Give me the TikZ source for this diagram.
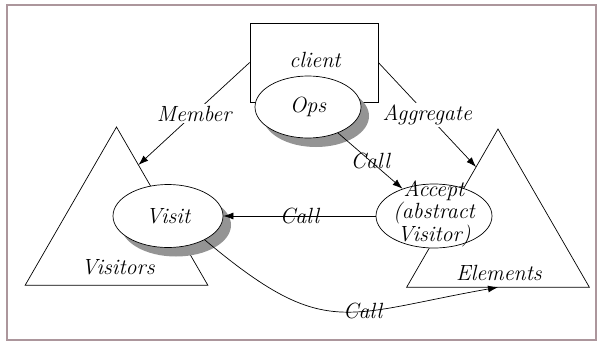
\documentclass[tikz,border=0pt]{standalone}
\usepackage{tikz}
\usetikzlibrary{arrows.meta,shapes.geometric,shadows,calc}
\definecolor{framecol}{RGB}{172,150,156}
\tikzstyle{part} = [regular polygon, regular polygon sides=3, draw, fill=white, minimum size=211pt, inner sep=0pt, outer sep=0pt]
\tikzstyle{op} = [ellipse, draw, fill=white, inner sep=0pt, align=center]
\tikzstyle{shade} = [drop shadow={shadow xshift=8pt, shadow yshift=-9pt, fill=black!42, opacity=1}]
\tikzstyle{link} = [-{Latex[length=10pt,width=7pt]}, line width=0.7pt]
\tikzstyle{tag} = [fill=white, inner sep=2pt]

\begin{document}
\begin{tikzpicture}[x=1pt, y=-1pt, line width=0.7pt, font=\fontsize{22}{22}\selectfont\itshape]
\useasboundingbox (0,0) rectangle (602,343);
\draw[framecol, line width=1.3pt] (7,5) rectangle (596,340);

% the two groups
\node[part] (vtri) at (116.5,232.5) {};
\node[part] (etri) at (498,234.5) {};
\node (vlbl) at (118,267) {Visitors};
\node (elbl) at (499,273) {Elements};

% client with its operation
\node[draw, minimum width=128pt, minimum height=79pt] (client) at (314,62.5) {};
\node (clbl) at (315,60) {client};
\node[op, shade, minimum width=106pt, minimum height=62pt] (ops) at (308,107) {Ops};

\node[op, shade, minimum width=110pt, minimum height=63pt] (visit) at (168,216) {Visit};
\node[op, minimum width=116pt, minimum height=64pt] (accept) at (434,216) {};
\node[align=center, inner sep=0pt] (acclbl) at (434,214) {Accept\\(abstract\\Visitor)};

\coordinate (mend) at ($(vtri.corner 1)!0.24!(vtri.corner 3)$);
\coordinate (aend) at ($(etri.corner 1)!0.24!(etri.corner 2)$);
\coordinate (cend) at ($(etri.corner 2)!0.5!(etri.corner 3)$);

\draw[link] (client.west) -- node[tag] (mlbl) {Member} (mend);
\draw[link] (client.east) -- node[tag] (albl) {Aggregate} (aend);
\draw[link] (ops) -- node (c1lbl) {Call} (accept);
\draw[link] (accept) -- node (c2lbl) {Call} (visit);
\draw[link] (visit.-33) to[out=-40, in=190, looseness=1.35] node[pos=0.6] (c3lbl) {Call} (cend);
\end{tikzpicture}
\end{document}
